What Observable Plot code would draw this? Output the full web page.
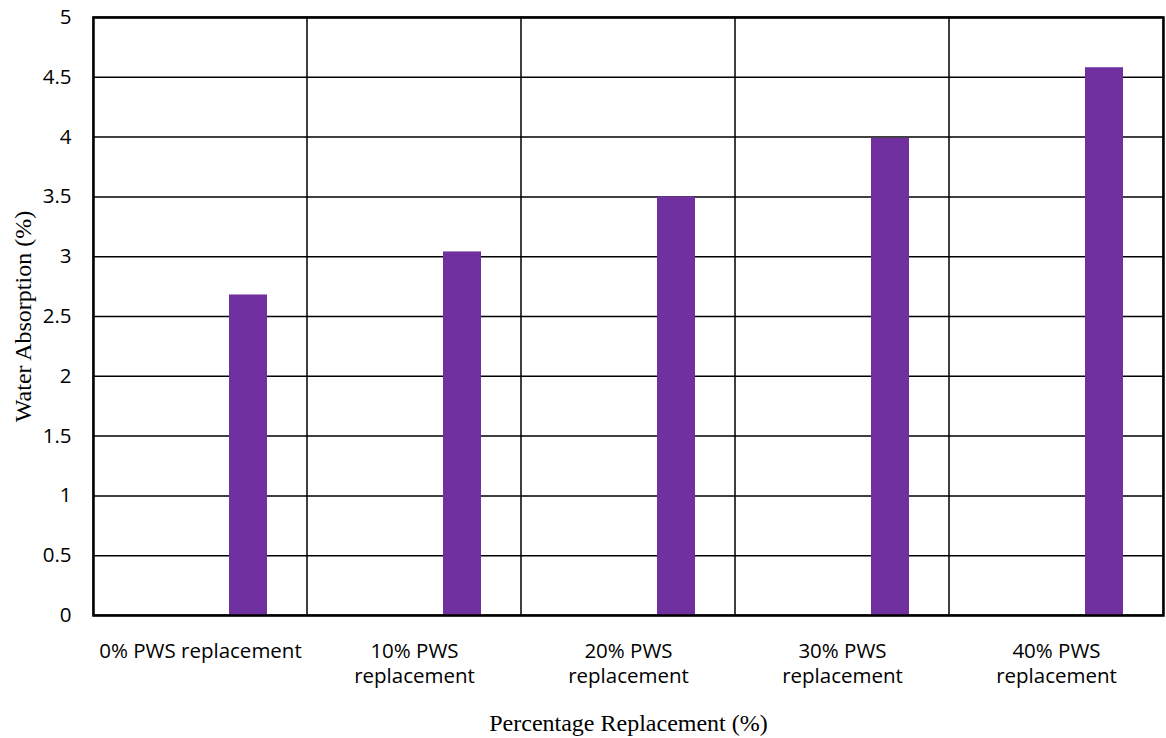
<!DOCTYPE html>
<html>
<head>
<meta charset="utf-8">
<script src="https://cdn.jsdelivr.net/npm/d3@7"></script>
<script src="https://cdn.jsdelivr.net/npm/@observablehq/plot@0.6"></script>
<style>
  html, body { margin: 0; padding: 0; background: white; }
  #chart svg { display: block; }
</style>
</head>
<body>
<div id="chart"></div>
<script>
const categories = [
  "0% PWS replacement",
  "10% PWS\nreplacement",
  "20% PWS\nreplacement",
  "30% PWS\nreplacement",
  "40% PWS\nreplacement"
];
const absorption = [2.68, 3.04, 3.50, 3.99, 4.58];
const yTicks = [0, 0.5, 1, 1.5, 2, 2.5, 3, 3.5, 4, 4.5, 5];
const xTitle = "Percentage Replacement (%)";
const yTitle = "Water Absorption (%)";

const data = categories.map((c, i) => ({category: c, value: absorption[i]}));
const yMax = yTicks[yTicks.length - 1];
const serif = "'Liberation Serif', 'Times New Roman', serif";

const chart = Plot.plot({
  width: 1166,
  height: 738,
  marginLeft: 93,
  marginRight: 3,
  marginTop: 17,
  marginBottom: 123,
  style: {fontFamily: "'Open Sans', sans-serif", fontSize: "20.5px", color: "black", background: "white"},
  x: {domain: categories, padding: 0, label: null},
  y: {domain: [0, yMax], label: null},
  marks: [
    Plot.ruleY(yTicks, {stroke: "black", strokeWidth: 1.5}),
    Plot.barY(categories, {x: d => d, y1: 0, y2: yMax, fill: "none", stroke: "black", strokeWidth: 1}),
    Plot.barY(data, {x: "category", y: "value", fill: "#7030A0", insetLeft: 136, insetRight: 40}),
    Plot.frame({stroke: "black", strokeWidth: 2.5}),
    Plot.axisY({ticks: yTicks, tickSize: 0, tickPadding: 22, tickFormat: d => String(d), label: null}),
    Plot.axisX({tickSize: 0, tickPadding: 25, lineHeight: 1.22, label: null}),
    Plot.text([xTitle], {text: d => d, frameAnchor: "bottom", textAnchor: "middle", lineAnchor: "middle", dy: 108, fontFamily: serif, fontSize: 24}),
    Plot.text([yTitle], {text: d => d, frameAnchor: "left", textAnchor: "middle", lineAnchor: "middle", rotate: -90, dx: -70, fontFamily: serif, fontSize: 24})
  ]
});
document.getElementById("chart").append(chart);
</script>
</body>
</html>
